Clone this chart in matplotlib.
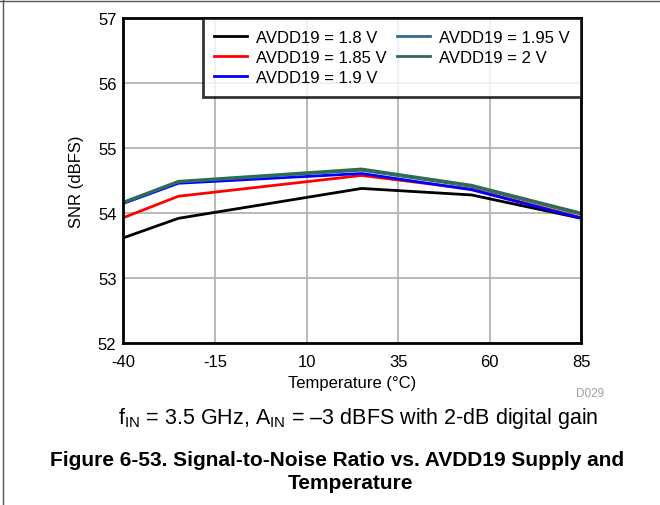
import matplotlib.pyplot as plt
from matplotlib.lines import Line2D

# data
temps = [-40, -25, 25, 55, 85]
snr_180 = [53.62, 53.92, 54.38, 54.28, 53.92]
snr_185 = [53.93, 54.26, 54.58, 54.37, 53.93]
snr_190 = [54.15, 54.46, 54.61, 54.36, 53.92]
snr_195 = [54.16, 54.48, 54.66, 54.41, 53.98]
snr_200 = [54.17, 54.49, 54.68, 54.43, 54.00]

labels = ["AVDD19 = 1.8 V", "AVDD19 = 1.85 V", "AVDD19 = 1.9 V",
          "AVDD19 = 1.95 V", "AVDD19 = 2 V"]
colors = ["black", "#ff0000", "#0000ff", "#336b8c", "#2e6e4c"]
xticks = [-40, -15, 10, 35, 60, 85]
yticks = [52, 53, 54, 55, 56, 57]

plt.rcParams['font.family'] = ['Liberation Sans', 'DejaVu Sans']
plt.rcParams['axes.unicode_minus'] = False
plt.rcParams['mathtext.fontset'] = 'custom'
plt.rcParams['mathtext.rm'] = 'Liberation Sans'

fig = plt.figure(figsize=(6.6, 5.06), dpi=100)
ax = fig.add_axes([0.187, 0.320, 0.694, 0.642])

series = [snr_180, snr_185, snr_190, snr_195, snr_200]
for vals, lab, c in zip(series, labels, colors):
    ax.plot(temps, vals, color=c, lw=2, label=lab)

ax.set_xlim(-40, 85)
ax.set_ylim(52, 57)
ax.set_xticks(xticks)
ax.set_yticks(yticks)
ax.tick_params(length=0, labelsize=12)
ax.tick_params(axis="x", pad=8)
ax.tick_params(axis="y", pad=5)
ax.grid(True, color="#b4b4b4", lw=1.3)
ax.set_axisbelow(True)
for s in ax.spines.values():
    s.set_linewidth(2)

ax.set_xlabel("Temperature (°C)", fontsize=12, labelpad=4)
ax.set_ylabel("SNR (dBFS)", fontsize=12, labelpad=10)

leg = ax.legend(loc="upper right", ncol=2, fontsize=12, frameon=True,
                fancybox=False, edgecolor="black", borderaxespad=0,
                handlelength=1.95, handletextpad=0.55, columnspacing=0.65,
                labelspacing=0.3, borderpad=0.7)
leg.get_frame().set_linewidth(2)

fig.text(0.894, 0.221, "D029", fontsize=8.5, color="#a0a0a0", ha="center", va="center")
fig.text(0.542, 0.173, r"f$_{\mathrm{IN}}$ = 3.5 GHz, A$_{\mathrm{IN}}$ = –3 dBFS with 2-dB digital gain",
         fontsize=15.5, ha="center", va="center")
fig.text(0.51, 0.089, "Figure 6-53. Signal-to-Noise Ratio vs. AVDD19 Supply and",
         fontsize=15, fontweight="bold", ha="center", va="center")
fig.text(0.531, 0.044, "Temperature",
         fontsize=15, fontweight="bold", ha="center", va="center")

# page frame lines
fig.add_artist(Line2D([0.005, 0.005], [0, 1], color="#555555", lw=1, transform=fig.transFigure))
fig.add_artist(Line2D([0, 1], [0.997, 0.997], color="#555555", lw=1, transform=fig.transFigure))

fig.savefig("out.png", dpi=100)
